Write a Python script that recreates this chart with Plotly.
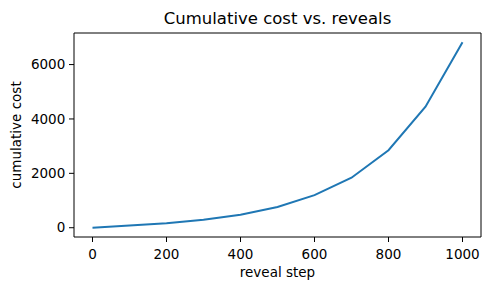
import plotly.graph_objects as go

reveal_step = [0, 100, 200, 300, 400, 500, 600, 700, 800, 900, 1000]
cumulative_cost = [0, 90, 165, 290, 480, 760, 1200, 1840, 2850, 4450, 6820]

title_text = "Cumulative cost vs. reveals"
x_label = "reveal step"
y_label = "cumulative cost"
x_ticks = [0, 200, 400, 600, 800, 1000]
y_ticks = [0, 2000, 4000, 6000]

font_family = "DejaVu Sans"

fig = go.Figure()
fig.add_trace(go.Scatter(
    x=reveal_step, y=cumulative_cost, mode="lines",
    line=dict(color="#1f77b4", width=2),
    showlegend=False,
))

ymax = max(cumulative_cost)
axis_common = dict(
    ticks="outside", ticklen=5, tickwidth=1, tickcolor="rgba(0,0,0,0)",
    showline=False, showgrid=False, zeroline=False,
)

shapes = [dict(type="rect", xref="paper", yref="paper", x0=0, y0=0,
               x1=1, y1=1, line=dict(color="#000000", width=1),
               layer="above")]
for t in x_ticks:
    shapes.append(dict(type="line", xref="x", yref="paper", x0=t, x1=t,
                       ysizemode="pixel", yanchor=0, y0=0, y1=-5,
                       line=dict(color="#000000", width=1)))
for t in y_ticks:
    shapes.append(dict(type="line", yref="y", xref="paper", y0=t, y1=t,
                       xsizemode="pixel", xanchor=0, x0=0, x1=-5,
                       line=dict(color="#000000", width=1)))

fig.update_layout(
    width=482, height=282,
    margin=dict(l=66, r=9, t=25, b=53, autoexpand=False),
    paper_bgcolor="white", plot_bgcolor="white",
    font=dict(family=font_family, size=13.5, color="black"),
    title=dict(text=title_text, x=0.5, xref="paper", y=1 - 10 / 282,
               yref="container", xanchor="center", yanchor="middle",
               font=dict(size=16.5, family=font_family, color="black")),
    xaxis=dict(
        range=[-50, 1050], tickvals=x_ticks,
        title=dict(text=x_label, standoff=6, font=dict(size=13.5)),
        **axis_common,
    ),
    yaxis=dict(
        range=[-0.05 * ymax, 1.05 * ymax], tickvals=y_ticks,
        title=dict(text=y_label, standoff=8, font=dict(size=13.5)),
        **axis_common,
    ),
    shapes=shapes,
)

fig.write_html("out.html")
